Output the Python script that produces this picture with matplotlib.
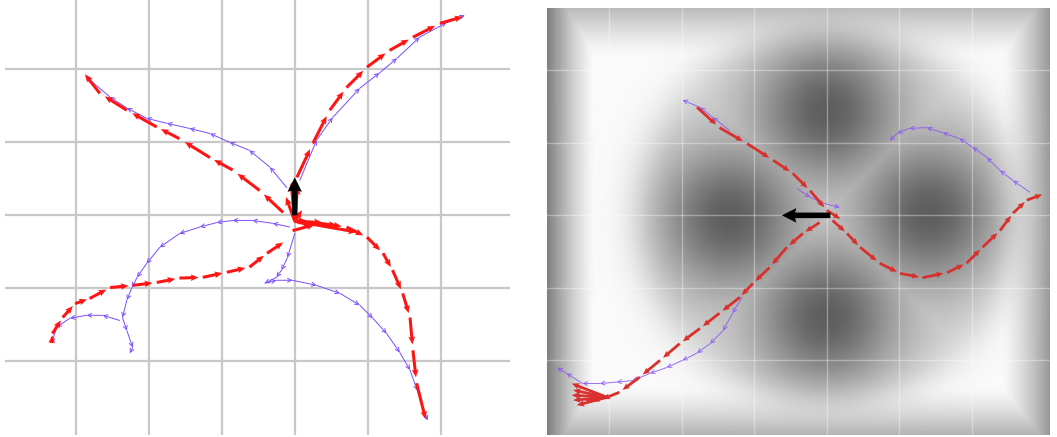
import numpy as np
import matplotlib
matplotlib.use("Agg")
import matplotlib.pyplot as plt
from matplotlib.patches import FancyArrowPatch

# ---- left panel trajectories (grid units, robot at origin) ----
L_RED = [
    [(0.00, 0.03), (0.03, 0.52), (0.25, 0.99), (0.48, 1.44), (0.71, 1.75), (0.99, 2.03),
     (1.30, 2.26), (1.62, 2.44), (1.99, 2.63), (2.37, 2.74)],
    [(-0.16, 0.04), (-0.48, 0.34), (-0.85, 0.62), (-1.16, 0.79), (-1.58, 1.05), (-1.89, 1.21),
     (-2.30, 1.44), (-2.67, 1.67), (-2.92, 1.99)],
    [(-0.03, -0.21), (0.34, -0.11), (0.71, -0.16), (0.99, -0.30), (1.21, -0.52), (1.34, -0.75),
     (1.48, -1.07), (1.58, -1.40), (1.62, -1.85), (1.67, -2.30), (1.82, -2.90)],
    [(-3.33, -1.75), (-3.32, -1.62), (-3.18, -1.40), (-3.01, -1.21), (-2.81, -1.14), (-2.53, -0.99),
     (-2.22, -0.96), (-1.89, -0.92), (-1.58, -0.86), (-1.26, -0.85), (-0.93, -0.78), (-0.62, -0.71),
     (-0.38, -0.52), (-0.11, -0.34)],
]
L_BLUE = [
    [(0.07, 0.48), (0.30, 1.03), (0.52, 1.34), (0.89, 1.74), (1.16, 1.95), (1.40, 2.15),
     (1.71, 2.44), (2.08, 2.64), (2.33, 2.74)],
    [(-0.11, 0.38), (-0.34, 0.66), (-0.62, 0.89), (-0.89, 1.00), (-1.16, 1.12), (-1.44, 1.19),
     (-1.75, 1.26), (-2.03, 1.33), (-2.30, 1.47), (-2.53, 1.62), (-2.85, 1.89)],
    [(0.00, -0.25), (-0.10, -0.58), (-0.18, -0.75), (-0.25, -0.85), (-0.41, -0.93), (-0.25, -0.89),
     (-0.03, -0.89), (0.30, -0.96), (0.62, -1.07), (0.89, -1.23), (1.07, -1.41), (1.26, -1.62),
     (1.44, -1.88), (1.58, -2.12), (1.68, -2.40), (1.82, -2.81)],
    [(-0.07, -0.16), (-0.30, -0.11), (-0.58, -0.07), (-0.85, -0.07), (-1.07, -0.10), (-1.30, -0.16),
     (-1.58, -0.25), (-1.85, -0.44), (-2.03, -0.66), (-2.16, -0.85), (-2.23, -0.99), (-2.30, -1.16),
     (-2.36, -1.40), (-2.30, -1.58), (-2.22, -1.81), (-2.26, -1.89)],
    [(-2.40, -1.44), (-2.63, -1.37), (-2.85, -1.37), (-3.08, -1.41), (-3.26, -1.53), (-3.33, -1.75)],
]
L_FAN_BASE = (0.0, -0.08)
L_FAN_ENDS = [(0.23, -0.14), (0.38, -0.10), (0.58, -0.14), (0.85, -0.23), (0.16, -0.07),
              (0.10, 0.07), (-0.05, 0.45), (0.04, 0.40), (-0.12, 0.25)]
L_HEADING = ((0.0, 0.0), (0.0, 0.52))

# ---- right panel trajectories ----
R_RED = [
    [(-1.79, 1.49), (-1.48, 1.21), (-1.10, 0.99), (-0.74, 0.76), (-0.47, 0.58), (-0.23, 0.34),
     (0.00, 0.07), (0.22, -0.07)],
    [(0.08, -0.07), (0.28, -0.25), (0.46, -0.44), (0.73, -0.66), (1.01, -0.80), (1.32, -0.86),
     (1.66, -0.79), (1.93, -0.66), (2.15, -0.44), (2.39, -0.21), (2.57, 0.03), (2.76, 0.21), (3.01, 0.30)],
    [(-0.10, -0.10), (-0.33, -0.25), (-0.55, -0.44), (-0.79, -0.72), (-1.02, -0.94), (-1.20, -1.13),
     (-1.48, -1.35), (-1.75, -1.56), (-2.03, -1.77), (-2.30, -2.00), (-2.58, -2.23), (-2.86, -2.44),
     (-3.13, -2.55), (-3.37, -2.55)],
]
R_BLUE = [
    [(2.80, 0.32), (2.57, 0.48), (2.39, 0.62), (2.21, 0.80), (2.01, 0.94), (1.83, 1.06),
     (1.60, 1.14), (1.38, 1.21), (1.14, 1.20), (0.97, 1.13), (0.87, 1.03)],
    [(-1.34, 1.17), (-1.57, 1.35), (-1.75, 1.49), (-1.99, 1.59)],
    [(-0.41, 0.37), (-0.23, 0.25), (-0.06, 0.17), (0.18, 0.11)],
    [(-1.17, -1.13), (-1.30, -1.35), (-1.43, -1.59), (-1.61, -1.77), (-1.79, -1.90), (-1.99, -2.00),
     (-2.21, -2.10), (-2.44, -2.18), (-2.68, -2.28), (-2.90, -2.30), (-3.13, -2.32), (-3.37, -2.32),
     (-3.59, -2.18), (-3.72, -2.10)],
]
R_FAN_BASE = (-3.03, -2.51)
R_FAN_ENDS = [(-3.52, -2.48), (-3.50, -2.41), (-3.52, -2.32), (-3.50, -2.55), (-3.45, -2.62)]
R_HEADING = ((0.05, 0.0), (-0.62, 0.0))

# obstacle blobs behind the right panel
BLOB_X = [0.0, 0.0, -1.34, 1.42]
BLOB_Y = [1.45, -1.41, -0.03, 0.03]
RING_R = 2.65
# wall shading: left, right, bottom, top
WALL_DARK = [0.48, 0.38, 0.28, 0.25]

L_LIM = (-3.97, 2.95, -3.01, 2.95)
R_LIM = (-3.86, 3.08, -3.03, 2.86)


def draw_red(ax, pts, color, frac=0.82, width=0.006):
    p = np.array(pts)
    d = np.diff(p, axis=0) * frac
    ax.quiver(p[:-1, 0], p[:-1, 1], d[:, 0], d[:, 1], angles="xy", scale_units="xy", scale=1,
              color=color, width=width, headwidth=2.2, headlength=2.6, headaxislength=2.3, zorder=4)


def draw_blue(ax, pts, color, alpha=1.0):
    for a, b in zip(pts[:-1], pts[1:]):
        ax.add_patch(FancyArrowPatch(a, b, arrowstyle="->", mutation_scale=7, lw=0.7,
                                     color=color, alpha=alpha, shrinkA=0, shrinkB=0, zorder=3))


def draw_fan(ax, base, ends, color, width):
    e = np.array(ends)
    ax.quiver(np.full(len(e), base[0]), np.full(len(e), base[1]), e[:, 0] - base[0], e[:, 1] - base[1],
              angles="xy", scale_units="xy", scale=1, color=color, width=width,
              headwidth=2.4, headlength=2.8, headaxislength=2.4, zorder=4)


def draw_heading(ax, h):
    (x0, y0), (x1, y1) = h
    ax.quiver([x0], [y0], [x1 - x0], [y1 - y0], angles="xy", scale_units="xy", scale=1,
              color="black", width=0.011, headwidth=2.6, headlength=2.6, headaxislength=2.4, zorder=6)


def setup(ax, lim):
    ax.set_xlim(lim[0], lim[1])
    ax.set_ylim(lim[2], lim[3])
    ax.set_xticks(np.arange(-3, 3))
    ax.set_yticks(np.arange(-2, 3))
    ax.tick_params(length=0, labelbottom=False, labelleft=False)
    for s in ax.spines.values():
        s.set_visible(False)


fig = plt.figure(figsize=(10.57, 4.37), dpi=100)

# LEFT
ax1 = fig.add_axes([5 / 1057, 2 / 437, 505 / 1057, 435 / 437])
setup(ax1, L_LIM)
ax1.grid(True, color="#c8c8c8", lw=1.6)
ax1.set_axisbelow(True)
for tr in L_BLUE:
    draw_blue(ax1, tr, "#7a4dff")
for tr in L_RED:
    draw_red(ax1, tr, "#ff1414")
draw_fan(ax1, L_FAN_BASE, L_FAN_ENDS, "#ff1414", 0.006)
draw_heading(ax1, L_HEADING)

# RIGHT
ax2 = fig.add_axes([547 / 1057, 2 / 437, 503 / 1057, 427 / 437])
setup(ax2, R_LIM)
xs = np.linspace(R_LIM[0], R_LIM[1], 400)
ys = np.linspace(R_LIM[2], R_LIM[3], 350)
X, Y = np.meshgrid(xs, ys)
d = np.min([np.hypot(X - bx, Y - by) for bx, by in zip(BLOB_X, BLOB_Y)], axis=0)
inner = 0.37 + 0.45 * (1 - np.exp(-(d / 1.0) ** 2))
walls = [X - R_LIM[0], R_LIM[1] - X, Y - R_LIM[2], R_LIM[3] - Y]
dark = np.max([a * np.clip(1 - w / 0.65, 0, 1) ** 1.3 for a, w in zip(WALL_DARK, walls)], axis=0)
outer = 0.98 - dark
r = np.hypot(X, Y)
s = 1 / (1 + np.exp(-(r - RING_R) / 0.15))
field = inner * (1 - s) + outer * s
ax2.imshow(field, extent=R_LIM, origin="lower", cmap="gray", vmin=0, vmax=1,
           interpolation="bilinear", aspect="auto", zorder=0)
ax2.grid(True, color="white", lw=1.0, alpha=0.35)
for ln in ax2.get_xgridlines() + ax2.get_ygridlines():
    ln.set_zorder(1)
for tr in R_BLUE:
    draw_blue(ax2, tr, "#8a55f5", alpha=0.85)
for tr in R_RED:
    draw_red(ax2, tr, "#d8302c", frac=0.85, width=0.0055)
draw_fan(ax2, R_FAN_BASE, R_FAN_ENDS, "#d8302c", 0.0055)
draw_heading(ax2, R_HEADING)

fig.savefig("out.png", dpi=100)
